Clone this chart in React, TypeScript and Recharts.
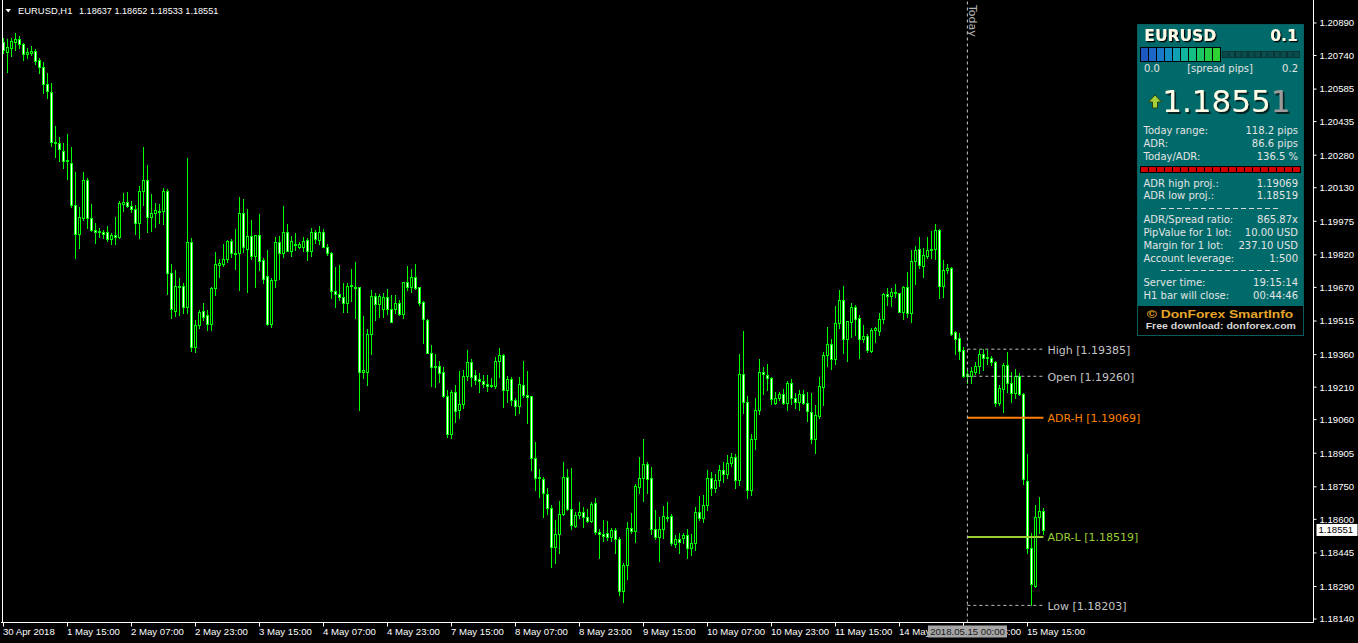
import { Bar, ComposedChart, Line, ReferenceLine, XAxis, YAxis } from "recharts";

// EURUSD H1, 30 Apr 23:00 .. 15 May 19:00 (261 bars)
const OPEN = [
  1.20803, 1.20756, 1.20775, 1.20803, 1.20816, 1.20794, 1.20747, 1.20751, 1.2076, 1.20719,
  1.20687, 1.20609, 1.20572, 1.20341, 1.20336, 1.20299, 1.20253, 1.20244, 1.2005, 1.19917,
  1.1999, 1.20166, 1.1999, 1.19935, 1.19926, 1.19926, 1.19926, 1.19893, 1.19912, 1.19903,
  1.20055, 1.20064, 1.20045, 1.20031, 1.19967, 1.20115, 1.20166, 1.19995, 1.20013, 1.20022,
  1.20022, 1.20115, 1.19736, 1.19561, 1.19676, 1.19676, 1.1958, 1.1988, 1.19395, 1.19497,
  1.19561, 1.19543, 1.19502, 1.19667, 1.19773, 1.19778, 1.19801, 1.19884, 1.19829, 1.19829,
  1.20013, 1.19847, 1.19907, 1.19815, 1.19912, 1.19796, 1.19723, 1.19502, 1.19704, 1.1988,
  1.19829, 1.19926, 1.19838, 1.1987, 1.19857, 1.19857, 1.19889, 1.19838, 1.19926, 1.19889,
  1.19926, 1.19857, 1.19829, 1.19653, 1.1964, 1.19626, 1.19598, 1.19676, 1.19672, 1.19672,
  1.1928, 1.1928, 1.19455, 1.1963, 1.19593, 1.1957, 1.19626, 1.1957, 1.1957, 1.19598,
  1.19547, 1.19695, 1.19672, 1.19718, 1.19672, 1.19603, 1.1952, 1.19367, 1.19303, 1.19307,
  1.1928, 1.19169, 1.18994, 1.19187, 1.19104, 1.19132, 1.19261, 1.19326, 1.19266, 1.19248,
  1.19238, 1.19225, 1.19215, 1.19215, 1.1933, 1.19358, 1.19197, 1.19248, 1.1915, 1.19123,
  1.1922, 1.19174, 1.19169, 1.18883, 1.18791, 1.18786, 1.18717, 1.18652, 1.18472, 1.18532,
  1.18625, 1.18795, 1.18648, 1.18569, 1.1862, 1.18634, 1.18611, 1.18592, 1.18675, 1.18541,
  1.18532, 1.18537, 1.18518, 1.18551, 1.18509, 1.18269, 1.18389, 1.1856, 1.18546, 1.18749,
  1.18791, 1.18855, 1.18791, 1.18555, 1.18518, 1.18555, 1.18611, 1.18615, 1.18486, 1.18509,
  1.18514, 1.18528, 1.18468, 1.18491, 1.18634, 1.18606, 1.18666, 1.18791, 1.18744, 1.18781,
  1.18827, 1.18809, 1.1886, 1.18887, 1.18781, 1.1927, 1.19141, 1.18735, 1.18971, 1.19104,
  1.1928, 1.19266, 1.19252, 1.19137, 1.1916, 1.19178, 1.19137, 1.19229, 1.1916, 1.19141,
  1.19178, 1.19137, 1.19095, 1.18971, 1.19076, 1.19211, 1.19358, 1.19409, 1.1934, 1.19506,
  1.19612, 1.19432, 1.19511, 1.1958, 1.19529, 1.19432, 1.19446, 1.19376, 1.19473, 1.19469,
  1.19524, 1.1964, 1.1963, 1.19649, 1.19644, 1.19557, 1.19672, 1.19552, 1.19792, 1.19847,
  1.19768, 1.19815, 1.19843, 1.19847, 1.19935, 1.19676, 1.1975, 1.1976, 1.19464, 1.19436,
  1.19381, 1.1926, 1.19261, 1.1928, 1.19307, 1.19363, 1.19349, 1.19344, 1.19326, 1.19137,
  1.19201, 1.19312, 1.19229, 1.19183, 1.19261, 1.19178, 1.18777, 1.18468, 1.18292, 1.18611,
  1.18637,
];

const HIGH = [
  1.20821, 1.20816, 1.20821, 1.20844, 1.2083, 1.20798, 1.20775, 1.20784, 1.2077, 1.20728,
  1.2071, 1.20659, 1.20613, 1.20414, 1.20364, 1.20336, 1.20378, 1.20318, 1.20203, 1.20041,
  1.20203, 1.20175, 1.20055, 1.19967, 1.19944, 1.19935, 1.19953, 1.19921, 1.19995, 1.20068,
  1.20105, 1.2011, 1.20068, 1.2005, 1.20138, 1.20318, 1.20235, 1.20101, 1.20059, 1.20055,
  1.20129, 1.20124, 1.19778, 1.1975, 1.19713, 1.1969, 1.20267, 1.19898, 1.1952, 1.19566,
  1.19598, 1.19566, 1.19672, 1.19834, 1.19801, 1.1987, 1.19889, 1.19893, 1.1994, 1.20087,
  1.20078, 1.20032, 1.19981, 1.19912, 1.20009, 1.19806, 1.19843, 1.19713, 1.19903, 1.19907,
  1.20045, 1.19963, 1.19907, 1.19921, 1.1988, 1.19903, 1.19898, 1.19944, 1.19935, 1.19953,
  1.1994, 1.1987, 1.19834, 1.19764, 1.19773, 1.1969, 1.1969, 1.19755, 1.19787, 1.19672,
  1.19538, 1.19478, 1.19658, 1.19644, 1.1964, 1.19644, 1.19663, 1.19635, 1.19635, 1.19612,
  1.19695, 1.19769, 1.19755, 1.19778, 1.19672, 1.19607, 1.19524, 1.19404, 1.19363, 1.1933,
  1.19303, 1.19197, 1.19197, 1.1922, 1.19284, 1.19289, 1.19381, 1.1934, 1.19289, 1.19275,
  1.19266, 1.19266, 1.19252, 1.19349, 1.1939, 1.19363, 1.19261, 1.19257, 1.1916, 1.19257,
  1.1933, 1.19284, 1.19169, 1.18957, 1.18832, 1.18795, 1.18744, 1.18666, 1.18597, 1.18684,
  1.18865, 1.18832, 1.18837, 1.18634, 1.1868, 1.18657, 1.18648, 1.1868, 1.18698, 1.18555,
  1.18597, 1.18592, 1.1856, 1.1856, 1.18518, 1.18398, 1.18588, 1.18629, 1.18763, 1.18888,
  1.18971, 1.18865, 1.18842, 1.18643, 1.18611, 1.18662, 1.1868, 1.18625, 1.18528, 1.18537,
  1.18537, 1.18555, 1.18532, 1.18657, 1.18708, 1.18712, 1.18827, 1.18818, 1.18809, 1.1885,
  1.18865, 1.18897, 1.18906, 1.18901, 1.19363, 1.19469, 1.19169, 1.18994, 1.1916, 1.1934,
  1.19303, 1.19317, 1.19257, 1.19188, 1.19188, 1.19201, 1.19238, 1.19248, 1.19183, 1.19197,
  1.19197, 1.19188, 1.19183, 1.19127, 1.19257, 1.19372, 1.19487, 1.19432, 1.19584, 1.19658,
  1.19676, 1.19515, 1.19598, 1.19589, 1.19543, 1.19497, 1.19455, 1.19483, 1.19487, 1.19552,
  1.19644, 1.19667, 1.19667, 1.19686, 1.19644, 1.19676, 1.19741, 1.19843, 1.19861, 1.19903,
  1.19852, 1.19903, 1.1993, 1.19963, 1.1994, 1.19796, 1.19778, 1.19764, 1.19469, 1.19459,
  1.19395, 1.19289, 1.19303, 1.19326, 1.19381, 1.19385, 1.19381, 1.19353, 1.1933, 1.1922,
  1.19321, 1.19372, 1.1928, 1.19293, 1.19275, 1.19183, 1.18901, 1.18537, 1.18666, 1.18703,
  1.18652,
];

const LOW = [
  1.20751, 1.20664, 1.20737, 1.20765, 1.20775, 1.20719, 1.20728, 1.20742, 1.20701, 1.20659,
  1.20567, 1.20544, 1.20322, 1.20272, 1.20253, 1.20221, 1.2017, 1.20041, 1.19806, 1.19852,
  1.19981, 1.19944, 1.1993, 1.19875, 1.19903, 1.19898, 1.19884, 1.1987, 1.1987, 1.19898,
  1.20022, 1.20041, 1.20018, 1.19917, 1.19898, 1.2005, 1.19926, 1.1993, 1.19949, 1.19967,
  1.19963, 1.1964, 1.19529, 1.19538, 1.19543, 1.19552, 1.19552, 1.19376, 1.19372, 1.19483,
  1.1952, 1.19473, 1.19473, 1.19635, 1.19718, 1.19768, 1.19787, 1.19811, 1.19755, 1.19658,
  1.19834, 1.19649, 1.19801, 1.19672, 1.1975, 1.1969, 1.19497, 1.19488, 1.19672, 1.19709,
  1.19811, 1.19838, 1.19815, 1.19843, 1.19852, 1.19838, 1.19796, 1.19815, 1.19875, 1.1987,
  1.19857, 1.1982, 1.19621, 1.1958, 1.19612, 1.19557, 1.19557, 1.19607, 1.19529, 1.19104,
  1.19252, 1.1922, 1.19363, 1.1952, 1.19534, 1.19534, 1.19547, 1.19511, 1.19552, 1.19543,
  1.19529, 1.19658, 1.19649, 1.19663, 1.19589, 1.19413, 1.19367, 1.19215, 1.19211, 1.19234,
  1.19165, 1.1898, 1.18975, 1.19049, 1.19067, 1.19113, 1.19243, 1.19215, 1.19225, 1.19188,
  1.19211, 1.19192, 1.19211, 1.19206, 1.19257, 1.19118, 1.19141, 1.19127, 1.19081, 1.1909,
  1.19165, 1.19044, 1.18827, 1.18735, 1.18703, 1.18611, 1.18625, 1.1838, 1.18398, 1.18444,
  1.1862, 1.18643, 1.18555, 1.18565, 1.18606, 1.18565, 1.18588, 1.18588, 1.18532, 1.18421,
  1.185, 1.18504, 1.185, 1.18444, 1.18251, 1.18219, 1.18325, 1.18537, 1.18495, 1.18721,
  1.18684, 1.18721, 1.18532, 1.18509, 1.18407, 1.18514, 1.18592, 1.18481, 1.18472, 1.18444,
  1.18491, 1.18421, 1.18435, 1.18458, 1.18597, 1.18588, 1.18643, 1.18712, 1.18726, 1.18754,
  1.18772, 1.18791, 1.18846, 1.18744, 1.18758, 1.1909, 1.18698, 1.18712, 1.18925, 1.19086,
  1.19178, 1.19197, 1.19132, 1.19132, 1.1915, 1.19132, 1.19104, 1.19132, 1.19113, 1.19104,
  1.19132, 1.19053, 1.18952, 1.18906, 1.19067, 1.19127, 1.19307, 1.19293, 1.19317, 1.19483,
  1.19367, 1.1933, 1.19441, 1.1945, 1.19344, 1.19418, 1.19372, 1.19372, 1.19418, 1.1945,
  1.19506, 1.19589, 1.19584, 1.19626, 1.19557, 1.19524, 1.19534, 1.19511, 1.19686, 1.1976,
  1.19718, 1.19806, 1.19806, 1.19801, 1.19621, 1.19626, 1.19736, 1.1945, 1.19363, 1.1934,
  1.19257, 1.19229, 1.19229, 1.1927, 1.19275, 1.19289, 1.19317, 1.19312, 1.19123, 1.19127,
  1.19095, 1.19188, 1.19141, 1.1916, 1.19174, 1.18763, 1.18444, 1.18203, 1.18288, 1.18537,
  1.18533,
];

const CLOSE = [
  1.20765, 1.2078, 1.20807, 1.20816, 1.20794, 1.20747, 1.20756, 1.2076, 1.20714, 1.20687,
  1.20609, 1.20576, 1.20341, 1.20336, 1.20308, 1.20253, 1.20258, 1.2005, 1.19917, 1.19995,
  1.20166, 1.1999, 1.19935, 1.19926, 1.1993, 1.19917, 1.19893, 1.19912, 1.19903, 1.20059,
  1.20064, 1.20045, 1.20031, 1.19967, 1.20115, 1.20166, 1.19995, 1.20013, 1.20027, 1.20018,
  1.20115, 1.19736, 1.1957, 1.19676, 1.19672, 1.1958, 1.1988, 1.19395, 1.19497, 1.19557,
  1.19534, 1.19502, 1.19667, 1.19778, 1.19782, 1.19801, 1.19884, 1.19829, 1.19825, 1.20013,
  1.19857, 1.19907, 1.19815, 1.19912, 1.19792, 1.19709, 1.19502, 1.19704, 1.1988, 1.19829,
  1.19926, 1.19838, 1.19884, 1.19866, 1.1987, 1.19884, 1.19838, 1.19926, 1.19893, 1.19926,
  1.19857, 1.19829, 1.19653, 1.1964, 1.19626, 1.19598, 1.19676, 1.19681, 1.19667, 1.1928,
  1.19289, 1.19455, 1.1963, 1.19593, 1.1963, 1.19626, 1.1957, 1.19511, 1.19598, 1.19547,
  1.19695, 1.19672, 1.19718, 1.19667, 1.19598, 1.19524, 1.19367, 1.19303, 1.19307, 1.19275,
  1.19169, 1.18994, 1.19187, 1.19099, 1.19132, 1.19261, 1.19326, 1.19257, 1.19243, 1.19238,
  1.19225, 1.19215, 1.1922, 1.1933, 1.19358, 1.19197, 1.19248, 1.1915, 1.19123, 1.19225,
  1.19174, 1.19165, 1.18883, 1.18791, 1.18795, 1.18721, 1.18652, 1.18472, 1.18532, 1.18625,
  1.18795, 1.18648, 1.18574, 1.1862, 1.18634, 1.18611, 1.18592, 1.18671, 1.18541, 1.18532,
  1.18523, 1.18518, 1.18551, 1.18509, 1.18269, 1.18389, 1.1856, 1.18546, 1.18754, 1.18791,
  1.18855, 1.18786, 1.18555, 1.18518, 1.18555, 1.18615, 1.18606, 1.18491, 1.18509, 1.18495,
  1.18528, 1.18468, 1.18491, 1.18634, 1.18606, 1.18666, 1.18791, 1.18744, 1.18781, 1.18827,
  1.18809, 1.1886, 1.18887, 1.18781, 1.1927, 1.19141, 1.18735, 1.18971, 1.19104, 1.1928,
  1.1927, 1.19252, 1.19155, 1.1916, 1.19178, 1.19137, 1.19229, 1.1916, 1.19141, 1.19178,
  1.19137, 1.19099, 1.18971, 1.19081, 1.19215, 1.19358, 1.19409, 1.1934, 1.19506, 1.19612,
  1.19432, 1.19515, 1.1958, 1.19524, 1.19432, 1.19446, 1.19381, 1.19473, 1.19483, 1.19524,
  1.1964, 1.1963, 1.19649, 1.19644, 1.19557, 1.19672, 1.19552, 1.19792, 1.19843, 1.19773,
  1.1982, 1.19843, 1.19847, 1.19935, 1.19676, 1.1975, 1.1976, 1.19455, 1.19432, 1.19376,
  1.19261, 1.1927, 1.19284, 1.19307, 1.19363, 1.19344, 1.19344, 1.19326, 1.19137, 1.19206,
  1.19312, 1.19229, 1.19183, 1.19261, 1.19178, 1.18786, 1.18468, 1.18301, 1.18611, 1.18638,
  1.18551,
];

const SLOTS = 328; // bars + the empty chart shift on the right
const TODAY_IDX = 241;
const LAST_IDX = CLOSE.length - 1;
const TODAY_STAMP = "2018.05.15 00:00";

const TIME_LABELS: [number, string][] = [
  [0, "30 Apr 2018"],
  [16, "1 May 15:00"],
  [32, "2 May 07:00"],
  [48, "2 May 23:00"],
  [64, "3 May 15:00"],
  [80, "4 May 07:00"],
  [96, "4 May 23:00"],
  [112, "7 May 15:00"],
  [128, "8 May 07:00"],
  [144, "8 May 23:00"],
  [160, "9 May 15:00"],
  [176, "10 May 07:00"],
  [192, "10 May 23:00"],
  [208, "11 May 15:00"],
  [224, "14 May 07:00"],
  [240, "14 May 23:00"],
  [256, "15 May 15:00"],
];

const PRICE_TICKS = [
  1.2089, 1.2074, 1.20585, 1.20435, 1.2028, 1.2013, 1.19975, 1.1982, 1.1967, 1.19515,
  1.1936, 1.1921, 1.1906, 1.18905, 1.1875, 1.186, 1.18445, 1.1829, 1.1814,
];

// today's levels drawn from the day open to the last bar
const LEVELS = [
  { key: "dayHigh", name: "High", value: 1.19385 },
  { key: "dayOpen", name: "Open", value: 1.1926 },
  { key: "adrHigh", name: "ADR-H", value: 1.19069 },
  { key: "adrLow", name: "ADR-L", value: 1.18519 },
  { key: "dayLow", name: "Low", value: 1.18203 },
];

const LEVEL_STYLE: Record<string, { color: string; width: number; dash?: string }> = {
  dayHigh: { color: "#c4c4c4", width: 1, dash: "3 3" },
  dayOpen: { color: "#c4c4c4", width: 1, dash: "3 3" },
  adrHigh: { color: "#ff8000", width: 2 },
  adrLow: { color: "#9acd32", width: 2 },
  dayLow: { color: "#c4c4c4", width: 1, dash: "3 3" },
};

// SmartInfo panel contents
const PANEL_ROWS_A = [
  ["Today range:", "118.2 pips"],
  ["ADR:", "86.6 pips"],
  ["Today/ADR:", "136.5 %"],
];
const PANEL_ROWS_B = [
  ["ADR high proj.:", "1.19069"],
  ["ADR low proj.:", "1.18519"],
];
const PANEL_ROWS_C = [
  ["ADR/Spread ratio:", "865.87x"],
  ["PipValue for 1 lot:", "10.00 USD"],
  ["Margin for 1 lot:", "237.10 USD"],
  ["Account leverage:", "1:500"],
];
const PANEL_ROWS_D = [
  ["Server time:", "19:15:14"],
  ["H1 bar will close:", "00:44:46"],
];
const SPREAD_COLORS = [
  "#1d58c0", "#1b68c6", "#187ac8", "#138cc2", "#0fa0b4", "#10b2a0",
  "#14bf84", "#1cc664", "#24cc48", "#2ed232",
];

const GREEN = "#00ff00";
const AX = "'Liberation Sans', Arial, sans-serif";
const UI = "'DejaVu Sans', Verdana, sans-serif";

const rows = Array.from({ length: SLOTS }, (_, i) => {
  const row: Record<string, any> = { t: i };
  if (i <= LAST_IDX) {
    row.o = OPEN[i];
    row.h = HIGH[i];
    row.l = LOW[i];
    row.c = CLOSE[i];
    row.range = [LOW[i], HIGH[i]];
    if (i >= TODAY_IDX) for (const lv of LEVELS) row[lv.key] = lv.value;
  }
  return row;
});

const LABEL_AT = new Map(TIME_LABELS);

function Candle(props: any) {
  const { x, y, width, height, payload } = props;
  if (!payload || payload.h == null || !Number.isFinite(y)) return <g />;
  const { o, h, l, c } = payload;
  const top = Math.min(y, y + height);
  const span = Math.abs(height);
  const k = h > l ? span / (h - l) : 0;
  const py = (v: number) => Math.round(top + (h - v) * k);
  const cx = Math.round(x + width / 2);
  const yh = py(h);
  const yl = py(l);
  const bt = py(Math.max(o, c));
  const bb = py(Math.min(o, c));
  return (
    <g>
      <rect x={cx} y={yh} width={1} height={Math.max(1, yl - yh + 1)} fill={GREEN} />
      <rect x={cx - 1} y={bt} width={3} height={Math.max(1, bb - bt + 1)} fill={GREEN} />
      {bb - bt >= 2 && (
        <rect x={cx} y={bt + 1} width={1} height={bb - bt - 1} fill={c > o ? "#000" : "#fff"} />
      )}
    </g>
  );
}

function TimeTick(props: any) {
  const { x, y, payload } = props;
  const i = Number(payload?.value);
  const px = Math.round(x);
  if (i === TODAY_IDX) {
    return (
      <g>
        <rect x={px - 39} y={y + 3} width={79} height={12} fill="#a6a6a6" />
        <text x={px + 0.5} y={y + 12.5} textAnchor="middle" fill="#1a1a1a" fontSize={9.6} fontFamily={AX}>
          {TODAY_STAMP}
        </text>
      </g>
    );
  }
  const label = LABEL_AT.get(i);
  if (!label) return <g />;
  return (
    <g>
      <line x1={px + 0.5} x2={px + 0.5} y1={y} y2={y + 4} stroke="#fff" />
      <text x={px} y={y + 12.5} fill="#fff" fontSize={9.6} fontFamily={AX}>
        {label}
      </text>
    </g>
  );
}

function levelDot(name: string, value: number, color: string) {
  return (p: any) => {
    if (p.index !== LAST_IDX || p.cx == null) return <g key={p.key ?? p.index} />;
    return (
      <text key={p.key ?? p.index} x={p.cx + 4} y={p.cy + 4.5} fill={color} fontSize={11} fontFamily={UI}>
        {`${name} [${value.toFixed(5)}]`}
      </text>
    );
  };
}

function InfoPanel() {
  const txt = "#e4e4e4";
  const rowsAt = (list: string[][], base: number, step: number) =>
    list.map(([k, v], j) => (
      <g key={k}>
        <text x={6.5} y={base + j * step} fill={txt} fontSize={10} fontFamily={UI}>
          {k}
        </text>
        <text x={161} y={base + j * step} fill={txt} fontSize={10} fontFamily={UI} textAnchor="end">
          {v}
        </text>
      </g>
    ));
  const last = CLOSE[LAST_IDX].toFixed(5);
  return (
    <svg width={167} height={312} style={{ position: "absolute", left: 1137, top: 24 }}>
      <defs>
        <filter id="shadowSmall" x="-10%" y="-20%" width="130%" height="150%">
          <feDropShadow dx={1.3} dy={1.3} stdDeviation={0} floodColor="#000" floodOpacity={1} />
        </filter>
        <filter id="shadowBig" x="-10%" y="-20%" width="130%" height="150%">
          <feDropShadow dx={1.8} dy={2} stdDeviation={0} floodColor="#002424" floodOpacity={1} />
        </filter>
      </defs>
      <rect x={0} y={0} width={167} height={312} fill="#006a6a" />
      <rect x={0.5} y={0.5} width={166} height={311} fill="none" stroke="#0b5c5c" />
      {/* title */}
      <text x={7.3} y={16.7} fill="#fffbe6" fontSize={15.5} fontWeight="bold" fontFamily={UI} filter="url(#shadowSmall)">
        EURUSD
      </text>
      <text x={160.7} y={16.7} fill="#fffbe6" fontSize={15.5} fontWeight="bold" fontFamily={UI} textAnchor="end" filter="url(#shadowSmall)">
        0.1
      </text>
      {/* spread meter */}
      <rect x={3} y={23} width={81} height={15} fill="#000" />
      {SPREAD_COLORS.map((col, j) => (
        <rect key={col} x={4 + j * 8} y={24} width={7} height={13} fill={col} />
      ))}
      {Array.from({ length: 12 }, (_, j) => (
        <rect key={j} x={85.5 + j * 6.5} y={27.5} width={5.5} height={6} fill="#0b4c4c" stroke="#063636" />
      ))}
      <text x={7} y={48.3} fill={txt} fontSize={10} fontFamily={UI}>0.0</text>
      <text x={83} y={48.3} fill={txt} fontSize={10} fontFamily={UI} textAnchor="middle">[spread pips]</text>
      <text x={161} y={48.3} fill={txt} fontSize={10} fontFamily={UI} textAnchor="end">0.2</text>
      {/* price */}
      <path d="M18 71 L24.5 78 L20.5 78 L20.5 84 L15.5 84 L15.5 78 L11.5 78 Z" fill="#a4d03a" stroke="#2c4010" strokeWidth={1} />
      <text x={25.3} y={88} fontSize={31} fontFamily={UI} filter="url(#shadowBig)">
        <tspan fill="#fffce8">{last.slice(0, -1)}</tspan>
        <tspan fill="#9c9c9c">{last.slice(-1)}</tspan>
      </text>
      {rowsAt(PANEL_ROWS_A, 110.3, 12.85)}
      <rect x={3} y={142} width={161} height={7} fill="#000" />
      {Array.from({ length: 20 }, (_, j) => (
        <rect key={j} x={4 + j * 8} y={143} width={7} height={5} fill="#d40000" />
      ))}
      {rowsAt(PANEL_ROWS_B, 162.7, 12.7)}
      <line x1={24} x2={141} y1={184.5} y2={184.5} stroke="#d8d8d8" strokeDasharray="5 3" />
      {rowsAt(PANEL_ROWS_C, 199.3, 13)}
      <line x1={24} x2={141} y1={246.5} y2={246.5} stroke="#d8d8d8" strokeDasharray="5 3" />
      {rowsAt(PANEL_ROWS_D, 262, 12.7)}
      <rect x={1} y={282} width={165} height={29} fill="#000" />
      <text x={9.7} y={293.7} fill="#e5a52a" fontSize={11.5} fontWeight="bold" fontFamily={AX} textLength={146.6} lengthAdjust="spacingAndGlyphs">
        © DonForex SmartInfo
      </text>
      <text x={8.7} y={305.3} fill="#d6d6d6" fontSize={9.5} fontWeight="bold" fontFamily={AX} textLength={150.3} lengthAdjust="spacingAndGlyphs">
        Free download:  donforex.com
      </text>
    </svg>
  );
}

export default function App() {
  const lastClose = CLOSE[LAST_IDX];
  const ohlc = [OPEN[LAST_IDX], HIGH[LAST_IDX], LOW[LAST_IDX], CLOSE[LAST_IDX]].map((v) => v.toFixed(5)).join(" ");
  return (
    <div style={{ position: "absolute", left: 0, top: 0, width: 1358, height: 643, background: "#000", overflow: "hidden" }}>
      <ComposedChart width={1358} height={643} data={rows} margin={{ top: 0, right: 0, bottom: 0, left: 1 }}>
        <XAxis
          dataKey="t"
          type="category"
          interval={0}
          height={20.5}
          axisLine={{ stroke: "#fff" }}
          tickLine={false}
          tickSize={0}
          tickMargin={0}
          tick={(p: any) => <TimeTick {...p} />}
        />
        <YAxis
          orientation="right"
          width={44.5}
          type="number"
          domain={[1.18124, 1.20996]}
          allowDataOverflow
          ticks={PRICE_TICKS}
          interval={0}
          axisLine={{ stroke: "#fff" }}
          tickLine={{ stroke: "#fff" }}
          tickSize={3}
          tickMargin={3}
          tick={{ fill: "#fff", fontSize: 9.6, fontFamily: AX }}
          tickFormatter={(v) => Number(v).toFixed(5)}
        />
        <Bar dataKey="range" shape={(p: any) => <Candle {...p} />} isAnimationActive={false} />
        {LEVELS.map((lv) => {
          const st = LEVEL_STYLE[lv.key];
          return (
            <Line
              key={lv.key}
              dataKey={lv.key}
              type="linear"
              stroke={st.color}
              strokeWidth={st.width}
              strokeDasharray={st.dash}
              dot={levelDot(lv.name, lv.value, st.color)}
              activeDot={false}
              isAnimationActive={false}
            />
          );
        })}
        <ReferenceLine
          x={TODAY_IDX}
          stroke="#c8c8c8"
          strokeDasharray="3 3"
          label={(p: any) => {
            const vb = p.viewBox || {};
            return (
              <text transform={`translate(${(vb.x ?? 0) + 2}, 5) rotate(90)`} fill="#b4b4b4" fontSize={11} fontFamily={UI}>
                Today
              </text>
            );
          }}
        />
        <ReferenceLine
          y={lastClose}
          stroke="none"
          strokeOpacity={0}
          label={(p: any) => {
            const vb = p.viewBox || {};
            const x0 = (vb.x ?? 0) + (vb.width ?? 0);
            const y0 = vb.y ?? 0;
            return (
              <g>
                <rect x={x0 + 3} y={y0 - 6} width={41} height={12} fill="#fff" />
                <text x={x0 + 5} y={y0 + 3.5} fill="#000" fontSize={9.6} fontFamily={AX}>
                  {lastClose.toFixed(5)}
                </text>
              </g>
            );
          }}
        />
      </ComposedChart>
      <div style={{ position: "absolute", left: 2, top: 0, width: 1, height: 623, background: "#fff" }} />
      <svg width={260} height={20} style={{ position: "absolute", left: 0, top: 0 }}>
        <path d="M5.5 9 L11 9 L8.25 12.5 Z" fill="#fff" />
        <text x={18} y={14} fill="#fff" fontSize={9.6} fontFamily={AX} textLength={54.4} lengthAdjust="spacingAndGlyphs">
          EURUSD,H1
        </text>
        <text x={79} y={14} fill="#fff" fontSize={9.6} fontFamily={AX} textLength={139.3} lengthAdjust="spacingAndGlyphs">
          {ohlc}
        </text>
      </svg>
      <InfoPanel />
    </div>
  );
}
